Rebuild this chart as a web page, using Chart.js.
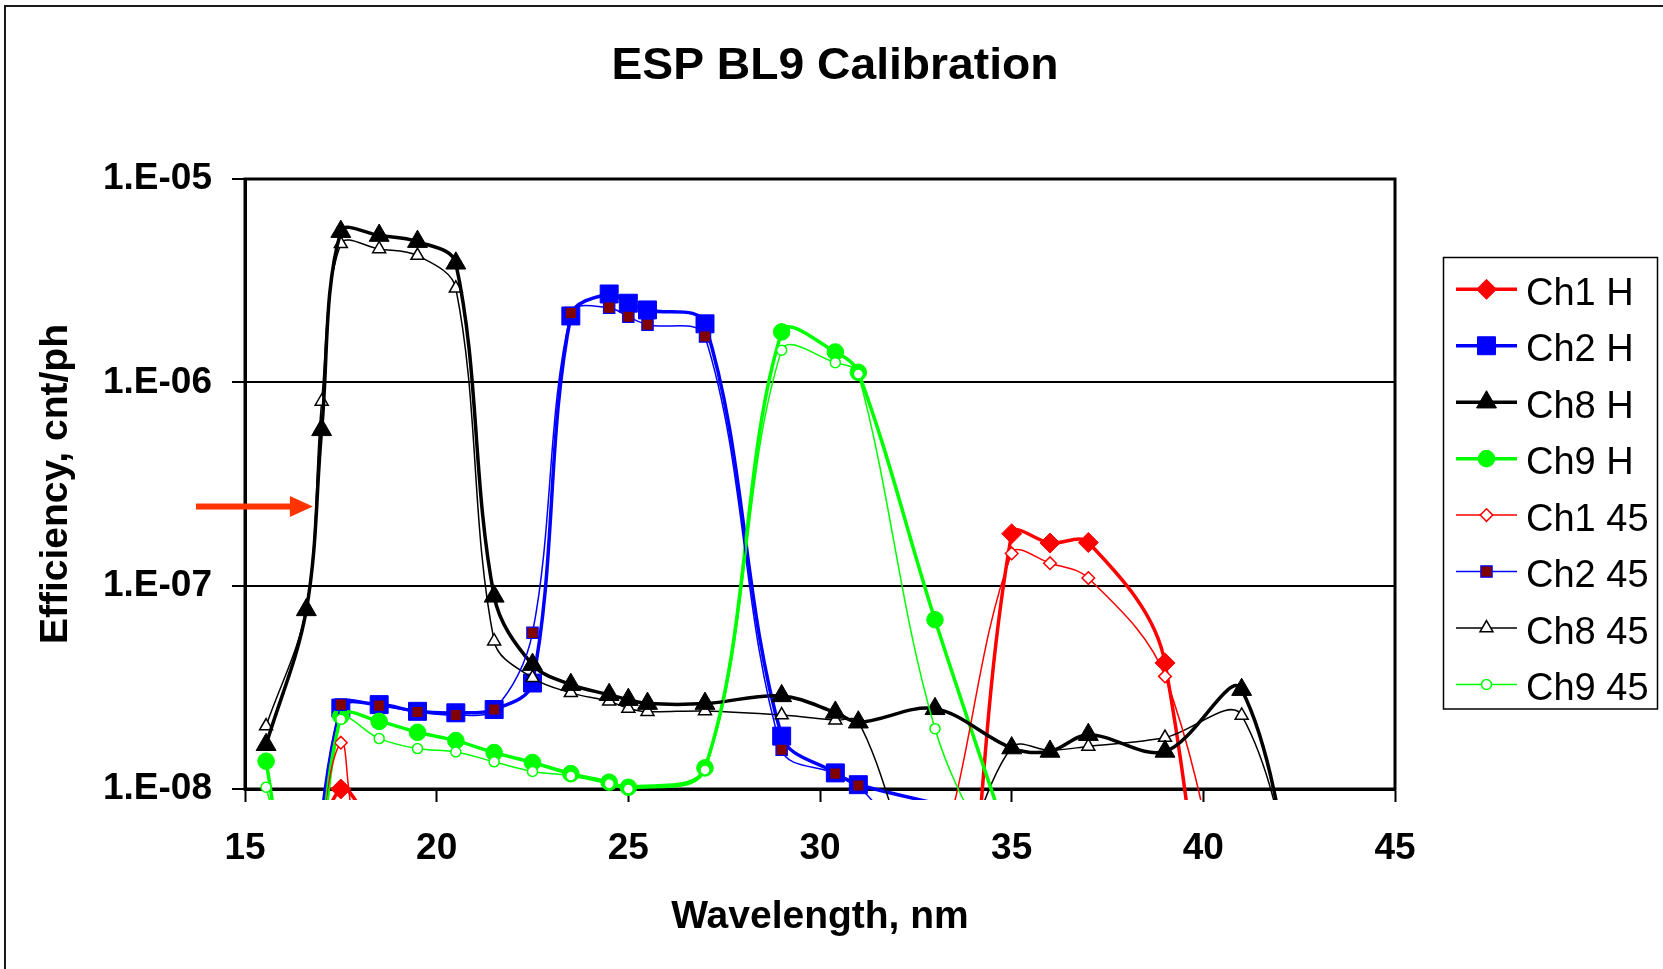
<!DOCTYPE html>
<html>
<head>
<meta charset="utf-8">
<script src="https://cdn.jsdelivr.net/npm/chart.js@4.4.1/dist/chart.umd.min.js"></script>
<style>
html,body{margin:0;padding:0;background:#fff;overflow:hidden}
#wrap{width:1663px;height:969px;position:relative}
canvas{display:block}
</style>
</head>
<body>
<div id="wrap"><canvas id="c" width="1663" height="969"></canvas></div>
<script>
// ---------- data ----------
const chartTitle = 'ESP BL9 Calibration';
const xAxisTitle = 'Wavelength, nm';
const yAxisTitle = 'Efficiency, cnt/ph';
const seriesNames = ['Ch1 H','Ch2 H','Ch8 H','Ch9 H','Ch1 45','Ch2 45','Ch8 45','Ch9 45'];

const wavelengths = [15.55, 16.6, 17, 17.5, 18.5, 19.5, 20.5, 21.5, 22.5, 23.5, 24.5, 25, 25.5, 27, 29, 30.4, 31, 33, 35, 36, 37, 39, 41, 43];

const ch1H  = [null, 3e-9, null, 1.0e-8, 6e-9, null, null, null, null, null, null, null, null, null, null, null, 5e-11, 1e-10, 1.8e-7, 1.62e-7, 1.63e-7, 4.17e-8, 1e-11, null];
const ch2H  = [null, 1.2e-9, null, 2.5e-8, 2.6e-8, 2.41e-8, 2.37e-8, 2.46e-8, 3.32e-8, 2.12e-6, 2.72e-6, 2.45e-6, 2.27e-6, 1.94e-6, 1.82e-8, 1.2e-8, 1.05e-8, null, 7e-9, null, null, null, null, null];
const ch8H  = [1.65e-8, 7.6e-8, 5.84e-7, 5.51e-6, 5.27e-6, 4.92e-6, 3.85e-6, 8.86e-8, 4.09e-8, 3.26e-8, 2.91e-8, 2.75e-8, 2.63e-8, 2.63e-8, 2.87e-8, 2.38e-8, 2.13e-8, 2.48e-8, 1.59e-8, 1.53e-8, 1.85e-8, 1.53e-8, 3.08e-8, 5e-10];
const ch9H  = [1.37e-8, 1e-9, null, 2.28e-8, 2.15e-8, 1.9e-8, 1.73e-8, 1.51e-8, 1.35e-8, 1.19e-8, 1.08e-8, 1.02e-8, null, 1.27e-8, 1.77e-6, 1.41e-6, 1.12e-6, 6.8e-8, 5e-9, null, null, null, null, null];
const ch1At45 = [null, 1.5e-9, null, 1.69e-8, 4e-9, null, null, null, null, null, null, null, null, null, null, null, 1e-9, 4e-9, 1.44e-7, 1.29e-7, 1.09e-7, 3.58e-8, 1e-9, null];
const ch2At45 = [null, 1.2e-9, null, 2.6e-8, 2.57e-8, 2.39e-8, 2.31e-8, 2.46e-8, 5.86e-8, 2.19e-6, 2.33e-6, 2.1e-6, 1.92e-6, 1.68e-6, 1.56e-8, 1.19e-8, 1.04e-8, 3.7e-9, null, null, null, null, null, null];
const ch8At45 = [2.04e-8, 7.8e-8, 8.05e-7, 4.8e-6, 4.53e-6, 4.2e-6, 2.9e-6, 5.33e-8, 3.52e-8, 2.97e-8, 2.7e-8, 2.49e-8, 2.4e-8, 2.42e-8, 2.31e-8, 2.18e-8, 2.14e-8, 3e-9, 1.6e-8, 1.55e-8, 1.62e-8, 1.79e-8, 2.3e-8, 8e-10];
const ch9At45 = [1.02e-8, 2e-9, null, 2.2e-8, 1.77e-8, 1.58e-8, 1.52e-8, 1.36e-8, 1.22e-8, 1.16e-8, 1.06e-8, 1.0e-8, null, 1.24e-8, 1.44e-6, 1.25e-6, 1.1e-6, 1.98e-8, 3e-9, null, null, null, null, null];

const xTickValues = [15, 20, 25, 30, 35, 40, 45];
const yTickValues = [1e-8, 1e-7, 1e-6, 1e-5];
const yTickLabels = ['1.E-08', '1.E-07', '1.E-06', '1.E-05'];

// arrow annotation, in data units
const arrowY = 2.45e-7;
const arrowFromX = 13.72;
const arrowToX = 16.77;

// ---------- styles ----------
const FONT = "'Liberation Sans', Arial, Helvetica, sans-serif";
const seriesData = [ch1H, ch2H, ch8H, ch9H, ch1At45, ch2At45, ch8At45, ch9At45];
// drawing rank: higher = drawn later (on top)
const drawRank = [0, 1, 5, 3, 4, 6, 2, 7];
const seriesStyles = [
  {color:'#FF0000', width:3.5, ps:'rectRot',  r:10,   fill:'#FF0000', border:'#FF0000', bw:1},
  {color:'#0000FF', width:3.5, ps:'rect',     r:12.7, fill:'#0000FF', border:'#0000FF', bw:1},
  {color:'#000000', width:3.5, ps:'triangle', r:11.5, fill:'#000000', border:'#000000', bw:1},
  {color:'#00FF00', width:3.5, ps:'circle',   r:8.3,  fill:'#00FF00', border:'#00FF00', bw:1},
  {color:'#FF0000', width:1.5, ps:'rectRot',  r:6.3,  fill:'#FFFFFF', border:'#FF0000', bw:1.5},
  {color:'#0000FF', width:1.5, ps:'rect',     r:8,    fill:'#800000', border:'#0000FF', bw:1.2},
  {color:'#000000', width:1.5, ps:'triangle', r:7.5,  fill:'#FFFFFF', border:'#000000', bw:1.5},
  {color:'#00FF00', width:1.5, ps:'circle',   r:5,    fill:'#FFFFFF', border:'#00FF00', bw:1.5}
];

const datasets = seriesData.map((arr, i) => {
  const s = seriesStyles[i];
  return {
    label: seriesNames[i],
    data: wavelengths.map((x, j) => ({x: x, y: arr[j]})),
    borderColor: s.color,
    backgroundColor: s.fill,
    borderWidth: s.width,
    pointStyle: s.ps,
    pointRadius: s.r,
    pointBackgroundColor: s.fill,
    pointBorderColor: s.border,
    pointBorderWidth: s.bw,
    pointHoverRadius: s.r,
    tension: 0.35,
    spanGaps: true,
    clip: {left: 0, top: 0, right: 0, bottom: 11},
    order: 7 - drawRank[i]
  };
});

function drawMarker(ctx, style, r, x, y) {
  ctx.beginPath();
  if (style === 'circle') {
    ctx.arc(x, y, r, 0, Math.PI * 2);
  } else if (style === 'rect') {
    const s = r * Math.SQRT1_2;
    ctx.rect(x - s, y - s, 2 * s, 2 * s);
  } else if (style === 'rectRot') {
    ctx.moveTo(x - r, y); ctx.lineTo(x, y - r); ctx.lineTo(x + r, y); ctx.lineTo(x, y + r);
    ctx.closePath();
  } else if (style === 'triangle') {
    const a = Math.sin(Math.PI * 2 / 3) * r, b = -Math.cos(Math.PI * 2 / 3) * r;
    ctx.moveTo(x, y - r); ctx.lineTo(x + a, y + b); ctx.lineTo(x - a, y + b);
    ctx.closePath();
  }
}

const framePlugin = {
  id: 'frame',
  beforeDraw(chart) {
    const ctx = chart.ctx;
    ctx.save();
    ctx.fillStyle = '#FFFFFF';
    ctx.fillRect(0, 0, chart.width, chart.height);
    ctx.strokeStyle = '#1a1a1a';
    ctx.lineWidth = 2;
    ctx.strokeRect(5, 6, chart.width + 50, chart.height + 50);
    ctx.restore();
  },
  beforeDatasetsDraw(chart) {
    const ctx = chart.ctx, a = chart.chartArea;
    ctx.save();
    ctx.strokeStyle = '#000';
    ctx.lineWidth = 3;
    ctx.strokeRect(a.left, a.top, a.right - a.left, a.bottom - a.top);
    ctx.restore();
  },
  afterDraw(chart) {
    const ctx = chart.ctx;
    const xs = chart.scales.x, ys = chart.scales.y;
    // title
    ctx.save();
    ctx.font = 'bold 44px ' + FONT;
    const tw = ctx.measureText(chartTitle).width;
    ctx.translate(835, 79);
    ctx.scale(447 / tw, 1);
    ctx.textAlign = 'center';
    ctx.textBaseline = 'alphabetic';
    ctx.fillStyle = '#000';
    ctx.fillText(chartTitle, 0, 0);
    ctx.restore();

    // legend
    ctx.save();
    ctx.strokeStyle = '#000';
    ctx.lineWidth = 1.5;
    ctx.strokeRect(1443.5, 257.5, 214, 451.5);
    ctx.font = '38px ' + FONT;
    ctx.textAlign = 'left';
    ctx.textBaseline = 'alphabetic';
    seriesNames.forEach((name, i) => {
      const s = seriesStyles[i];
      const yy = 289.3 + i * 56.45;
      ctx.strokeStyle = s.color;
      ctx.lineWidth = s.width;
      ctx.beginPath();
      ctx.moveTo(1456, yy); ctx.lineTo(1517, yy);
      ctx.stroke();
      drawMarker(ctx, s.ps, s.r, 1486.5, yy);
      ctx.fillStyle = s.fill;
      ctx.fill();
      ctx.strokeStyle = s.border;
      ctx.lineWidth = s.bw;
      ctx.stroke();
      ctx.fillStyle = '#000';
      ctx.fillText(name, 1526, yy + 15.5);
    });
    ctx.restore();

    // arrow
    const ax0 = xs.getPixelForValue(arrowFromX);
    const ax1 = xs.getPixelForValue(arrowToX);
    const ay = ys.getPixelForValue(arrowY);
    ctx.save();
    ctx.fillStyle = '#FF3300';
    ctx.fillRect(ax0, ay - 3, (ax1 - 22) - ax0, 6);
    ctx.beginPath();
    ctx.moveTo(ax1, ay);
    ctx.lineTo(ax1 - 23, ay - 10.5);
    ctx.lineTo(ax1 - 23, ay + 10.5);
    ctx.closePath();
    ctx.fill();
    ctx.restore();
  }
};

const tickFont = {family: FONT, size: 37, weight: 'bold'};
const titleFont = {family: FONT, size: 39, weight: 'bold'};

new Chart(document.getElementById('c').getContext('2d'), {
  type: 'line',
  data: {datasets: datasets},
  options: {
    responsive: false,
    animation: false,
    events: [],
    devicePixelRatio: 1,
    layout: {padding: {top: 179, left: 0, right: 268, bottom: 0}},
    elements: {line: {capBezierPoints: false}},
    plugins: {legend: {display: false}, title: {display: false}, tooltip: {enabled: false}},
    scales: {
      x: {
        type: 'linear', min: 15, max: 45,
        afterBuildTicks: s => { s.ticks = xTickValues.map(v => ({value: v})); },
        afterFit: s => { s.height = 180; },
        ticks: {font: tickFont, color: '#000', padding: 25, maxRotation: 0, autoSkip: false},
        grid: {drawOnChartArea: false, drawTicks: true, tickLength: 13, tickWidth: 2, tickColor: '#000', color: '#000'},
        border: {display: true, color: '#000', width: 3},
        title: {display: true, text: xAxisTitle, font: titleFont, color: '#000', padding: {top: 0, bottom: 28}}
      },
      y: {
        type: 'logarithmic', min: 1e-8, max: 1e-5,
        afterBuildTicks: s => { s.ticks = yTickValues.map(v => ({value: v})); },
        afterFit: s => { s.width = 245; },
        ticks: {
          font: tickFont, color: '#000', padding: 20, autoSkip: false,
          callback: (v) => { const k = yTickValues.findIndex(t => Math.abs(t - v) / t < 1e-6); return k >= 0 ? yTickLabels[k] : ''; }
        },
        grid: {color: '#000', lineWidth: 2, drawTicks: true, tickLength: 13, tickWidth: 2, tickColor: '#000'},
        border: {display: true, color: '#000', width: 3},
        title: {display: true, text: yAxisTitle, font: titleFont, color: '#000', padding: {top: 33, bottom: 0}}
      }
    }
  },
  plugins: [framePlugin]
});
</script>
</body>
</html>
